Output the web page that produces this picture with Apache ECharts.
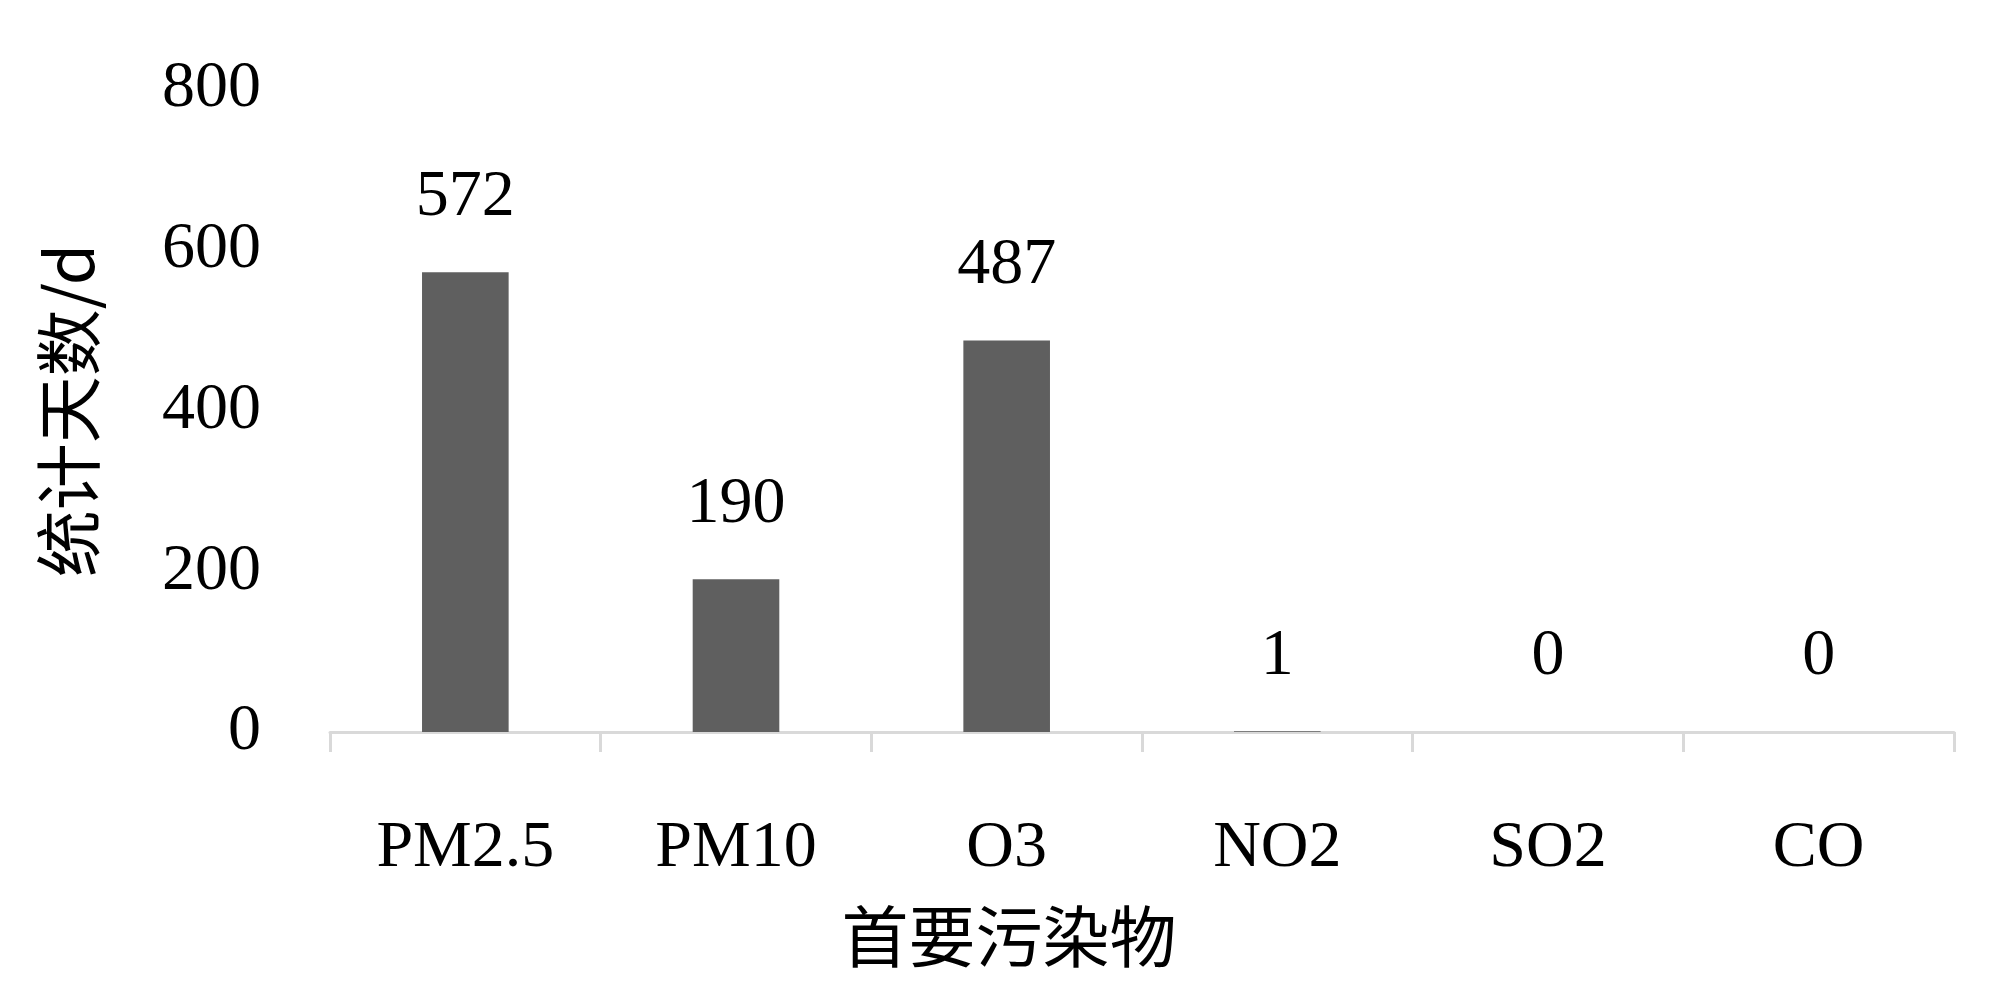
<!DOCTYPE html>
<html>
<head>
<meta charset="utf-8">
<script src="https://cdn.jsdelivr.net/npm/echarts@6/dist/echarts.min.js"></script>
<style>
html,body{margin:0;padding:0;background:#fff;}
#main{width:2000px;height:1004px;}
</style>
</head>
<body>
<div id="main"></div>
<script>
const categories = ['PM2.5', 'PM10', 'O3', 'NO2', 'SO2', 'CO'];
const days = [572, 190, 487, 1, 0, 0];
const yTicks = [0, 200, 400, 600, 800];
const yAxisTitle = '统计天数/d';
const xAxisTitle = '首要污染物';

const serif = '"Liberation Serif", "Noto Sans CJK SC", serif';
const chart = echarts.init(document.getElementById('main'));
chart.setOption({
  backgroundColor: '#ffffff',
  animation: false,
  title: {
    text: xAxisTitle,
    left: 1004,
    top: 932,
    textAlign: 'center',
    textVerticalAlign: 'middle',
    textStyle: { fontFamily: '"Noto Sans CJK SC", serif', fontSize: 67, fontWeight: 'normal', color: '#000' }
  },
  grid: { left: 330, right: 46, top: 89, bottom: 272 },
  xAxis: {
    type: 'category',
    data: categories,
    axisLine: { lineStyle: { color: '#d9d9d9', width: 3 } },
    axisTick: { show: true, length: 20, lineStyle: { color: '#d9d9d9', width: 3 } },
    axisLabel: { fontFamily: serif, fontSize: 66, color: '#000', margin: 84 }
  },
  yAxis: {
    type: 'value',
    min: yTicks[0],
    max: yTicks[yTicks.length - 1],
    interval: 200,
    name: yAxisTitle,
    nameLocation: 'middle',
    nameGap: 228,
    nameTextStyle: { fontFamily: '"Noto Sans CJK SC", serif', fontSize: 67, color: '#000' },
    axisLine: { show: false },
    axisTick: { show: false },
    splitLine: { show: false },
    axisLabel: { fontFamily: serif, fontSize: 66, color: '#000', margin: 69 }
  },
  series: [{
    type: 'bar',
    data: days,
    barWidth: '32%',
    itemStyle: { color: '#5f5f5f' },
    label: {
      show: true,
      position: 'top',
      distance: 42,
      fontFamily: serif,
      fontSize: 66,
      color: '#000'
    }
  }]
});
</script>
</body>
</html>
